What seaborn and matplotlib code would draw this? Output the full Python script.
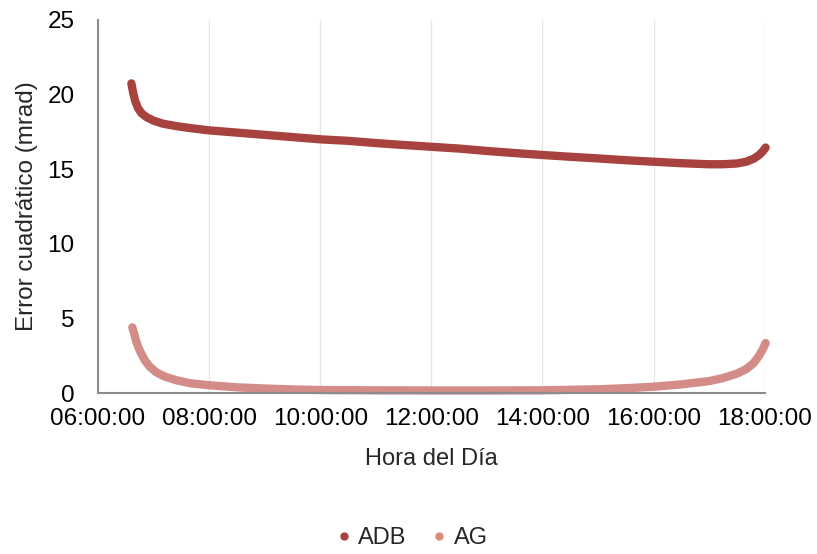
import pandas as pd
import numpy as np
import matplotlib
matplotlib.use("Agg")
import matplotlib.pyplot as plt
from matplotlib.lines import Line2D
import seaborn as sns

# datos (hora, error en mrad)
adb_horas = ["06:36", "06:38", "06:40", "06:43", "06:47", "06:52", "07:00", "07:10",
             "07:25", "07:40", "08:00", "08:30", "09:00", "09:30", "10:00", "10:30",
             "11:00", "11:30", "12:00", "12:30", "13:00", "13:30", "14:00", "14:30",
             "15:00", "15:30", "16:00", "16:30", "17:00", "17:15", "17:30", "17:40",
             "17:48", "17:54", "17:58", "18:01"]
adb_error = [20.75, 20.1, 19.6, 19.1, 18.75, 18.5, 18.25, 18.05,
             17.88, 17.75, 17.6, 17.45, 17.3, 17.15, 17.0, 16.9,
             16.75, 16.62, 16.5, 16.38, 16.22, 16.08, 15.95, 15.83,
             15.72, 15.6, 15.5, 15.4, 15.33, 15.33, 15.38, 15.5,
             15.7, 15.95, 16.2, 16.45]

ag_horas = ["06:37", "06:39", "06:41", "06:44", "06:47", "06:51", "06:56", "07:03",
            "07:12", "07:25", "07:40", "08:00", "08:30", "09:00", "09:30", "10:00",
            "11:00", "12:00", "13:00", "14:00", "15:00", "15:30", "16:00", "16:30",
            "17:00", "17:15", "17:30", "17:40", "17:48", "17:54", "17:58", "18:01"]
ag_error = [4.4, 4.0, 3.5, 3.0, 2.6, 2.15, 1.75, 1.38,
            1.1, 0.85, 0.65, 0.52, 0.38, 0.3, 0.24, 0.2,
            0.18, 0.17, 0.17, 0.18, 0.25, 0.32, 0.42, 0.58,
            0.8, 1.0, 1.3, 1.6, 2.0, 2.5, 2.95, 3.35]

series = ["ADB", "AG"]
colores = {"ADB": "#A8423E", "AG": "#D38C88"}
colores_leyenda = {"ADB": "#A8423E", "AG": "#DA8C76"}

ticks_x = [6, 8, 10, 12, 14, 16, 18]
ticks_y = [0, 5, 10, 15, 20, 25]


def a_horas(lista):
    t = pd.to_datetime(lista, format="%H:%M")
    return t.hour + t.minute / 60.0


df = pd.concat([
    pd.DataFrame({"Hora": a_horas(adb_horas), "Error": adb_error, "Serie": "ADB"}),
    pd.DataFrame({"Hora": a_horas(ag_horas), "Error": ag_error, "Serie": "AG"}),
])

sns.set_style("white")
plt.rcParams["font.family"] = ["Liberation Sans", "DejaVu Sans"]

fig = plt.figure(figsize=(8.17, 5.54), dpi=100)
ax = fig.add_axes([0.12, 0.2906, 0.816, 0.6734])

sns.lineplot(data=df, x="Hora", y="Error", hue="Serie", palette=colores,
             linewidth=6, legend=False, ax=ax, sort=True,
             solid_capstyle="round", solid_joinstyle="round")
for l in ax.lines:
    l.set_clip_on(False)

ax.set_xlim(6, 18)
ax.set_ylim(0, 25)
ax.set_xticks(ticks_x)
ax.set_xticklabels([f"{h:02d}:00:00" for h in ticks_x])
ax.set_yticks(ticks_y)
ax.tick_params(axis="both", length=0, labelsize=17.5, colors="black")
ax.tick_params(axis="y", pad=17)
ax.tick_params(axis="x", pad=11)

ax.grid(axis="x", color="#E6E6E6", linewidth=0.9)
ax.grid(axis="y", visible=False)
for s in ["top", "right"]:
    ax.spines[s].set_visible(False)
for s in ["left", "bottom"]:
    ax.spines[s].set_color("#8C8C8C")
    ax.spines[s].set_linewidth(1.5)

ax.set_xlabel("Hora del Día", fontsize=17, labelpad=13)
ax.set_ylabel("Error cuadrático (mrad)", fontsize=17.5, labelpad=7)

handles = [Line2D([], [], marker="o", linestyle="", markersize=5,
                  color=colores_leyenda[s], label=s) for s in series]
fig.legend(handles=handles, loc="lower center", bbox_to_anchor=(0.5, -0.03),
           ncol=2, frameon=False, fontsize=17, handletextpad=0.0,
           columnspacing=0.8, handlelength=1.2)

fig.savefig("out.png", dpi=100)
